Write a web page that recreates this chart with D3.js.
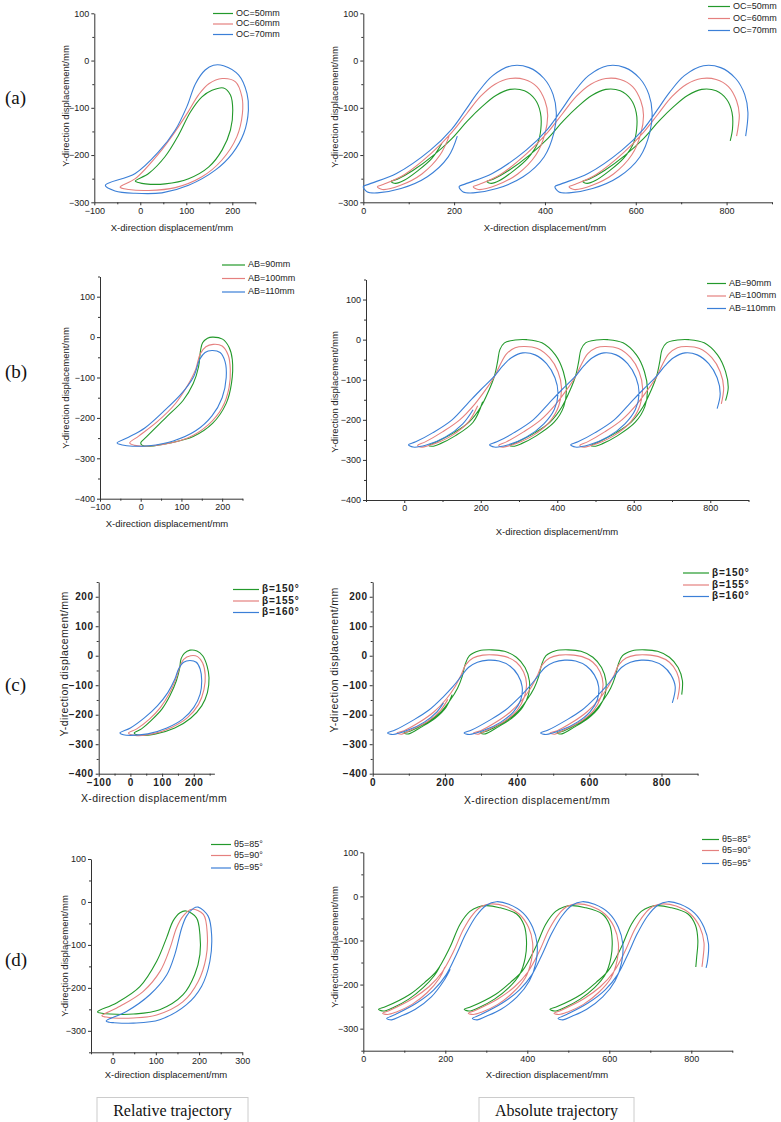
<!DOCTYPE html>
<html lang="en">
<head>
<meta charset="UTF-8">
<title>Relative and absolute trajectories</title>
<script src="https://d3js.org/d3.v7.min.js"></script>
<style>
  body { margin: 0; background: #fff; }
  svg { display: block; font-family: "Liberation Sans", Arial, sans-serif; }
  .domain, .tick line { stroke: #333; }
  .tick text { fill: #222; }
</style>
</head>
<body>
<div id="chart"></div>
<script>
const width = 781, height = 1122;
const colors = ["#23992b", "#e5807f", "#3b7fd7"];

// legend labels
const legendA = ["OC=50mm", "OC=60mm", "OC=70mm"];
const legendB = ["AB=90mm", "AB=100mm", "AB=110mm"];
const legendC = ["β=150°", "β=155°", "β=160°"];
const legendD = ["θ5=85°", "θ5=90°", "θ5=95°"];

// tick labels
const xTicksRel = [-100, 0, 100, 200];
const xTicksRelD = [0, 100, 200, 300];
const xTicksAbs = [0, 200, 400, 600, 800];
const yTicksA = [-300, -200, -100, 0, 100];
const yTicksB = [-400, -300, -200, -100, 0, 100];
const yTicksC = [-400, -300, -200, -100, 0, 100, 200];
const yTicksD = [-300, -200, -100, 0, 100];

// (a) relative trajectory, [x, y] in mm
const relA_OC50 = [[-11,-255],[18,-239],[54,-203],[83,-158],[109,-109],[134,-77],[156,-63],[181,-58],[196,-73],[201,-105],[196,-147],[178,-189],[149,-225],[105,-250],[54,-261],[11,-261],[-4,-258]];
const relA_OC60 = [[-44,-268],[-11,-250],[40,-197],[76,-150],[105,-107],[127,-72],[149,-49],[178,-38],[207,-45],[221,-77],[222,-112],[210,-161],[177,-211],[134,-246],[76,-269],[18,-275],[-25,-273]];
const relA_OC70 = [[-76,-264],[-11,-239],[40,-193],[76,-147],[101,-98],[120,-49],[141,-20],[159,-10],[181,-11],[214,-31],[232,-70],[235,-105],[225,-154],[200,-197],[163,-232],[105,-264],[47,-280],[-11,-281],[-55,-276]];

// (a) absolute trajectory
const absA_OC50 = [[173,-175],[151,-207],[119,-234],[89,-254],[71,-260],
  [61,-256],[75,-251],[110,-232],[155,-200],[195,-165],[230,-127],[262,-97],[292,-74],[323,-61],[355,-64],[378,-82],[390,-110],[391,-145],[384,-175],[362,-207],[330,-234],[300,-254],[282,-260],
  [272,-256],[286,-251],[321,-232],[366,-200],[406,-165],[441,-127],[473,-97],[503,-74],[534,-61],[566,-64],[589,-82],[601,-110],[602,-145],[595,-175],[573,-207],[541,-234],[511,-254],[493,-260],
  [483,-256],[497,-251],[532,-232],[577,-200],[617,-165],[652,-127],[684,-97],[714,-74],[745,-61],[777,-64],[800,-82],[812,-110],[813,-145],[808,-170]];
const absA_OC60 = [[189,-160],[169,-200],[129,-240],[82,-264],[42,-273],
  [31,-267],[45,-262],[91,-241],[150,-196],[195,-152],[228,-112],[258,-76],[290,-50],[323,-38],[355,-40],[382,-55],[400,-85],[406,-115],[400,-155],[380,-200],[340,-240],[293,-264],[253,-273],
  [242,-267],[256,-262],[302,-241],[361,-196],[406,-152],[439,-112],[469,-76],[501,-50],[534,-38],[566,-40],[593,-55],[611,-85],[617,-115],[611,-155],[591,-200],[551,-240],[504,-264],[464,-273],
  [453,-267],[467,-262],[513,-241],[572,-196],[617,-152],[650,-112],[680,-76],[712,-50],[745,-38],[777,-40],[804,-55],[822,-85],[828,-115],[822,-160]];
const absA_OC70 = [[207,-160],[187,-204],[141,-246],[83,-271],[31,-280],[9,-278],
  [0,-267],[14,-261],[73,-239],[147,-190],[195,-145],[225,-105],[252,-68],[285,-32],[327,-11],[365,-15],[398,-38],[418,-72],[425,-110],[420,-152],[398,-204],[352,-246],[294,-271],[242,-280],[220,-278],
  [211,-267],[225,-261],[284,-239],[358,-190],[406,-145],[436,-105],[463,-68],[496,-32],[538,-11],[576,-15],[609,-38],[629,-72],[636,-110],[631,-152],[609,-204],[563,-246],[505,-271],[453,-280],[431,-278],
  [422,-267],[436,-261],[495,-239],[569,-190],[617,-145],[647,-105],[674,-68],[707,-32],[749,-11],[787,-15],[820,-38],[840,-72],[847,-110],[842,-160]];

// (b) relative trajectory
const relB_90 = [[0,-262],[14,-247],[63,-198],[104,-157],[129,-115],[142,-74],[147,-33],[152,-14],[164,-3],[176,0],[201,-5],[217,-25],[225,-56],[223,-114],[210,-164],[177,-213],[129,-246],[72,-262],[23,-270],[4,-268]];
const relB_100 = [[-27,-262],[-5,-245],[40,-210],[85,-165],[115,-120],[135,-80],[146,-42],[160,-24],[178,-18],[200,-22],[215,-45],[220,-80],[217,-125],[200,-175],[165,-218],[115,-250],[55,-266],[5,-270],[-15,-268]];
const relB_110 = [[-58,-262],[-30,-248],[10,-225],[55,-185],[100,-140],[130,-98],[145,-55],[158,-38],[175,-33],[195,-38],[207,-60],[210,-100],[200,-150],[175,-195],[135,-232],[80,-257],[20,-269],[-20,-270],[-45,-267]];

// (b) absolute trajectory
const absB_90 = [[205,-155],[180,-206],[133,-240],[93,-260],[73,-266],
  [64,-264],[85,-255],[130,-232],[170,-205],[200,-168],[222,-125],[236,-90],[244,-55],[250,-25],[262,-8],[290,-1],[320,0],[360,-8],[395,-38],[416,-80],[424,-125],[417,-167],[392,-206],[345,-240],[305,-260],[285,-266],
  [276,-264],[297,-255],[342,-232],[382,-205],[412,-168],[434,-125],[448,-90],[456,-55],[462,-25],[474,-8],[502,-1],[532,0],[572,-8],[607,-38],[628,-80],[636,-125],[629,-167],[604,-206],[557,-240],[517,-260],[497,-266],
  [488,-264],[509,-255],[554,-232],[594,-205],[624,-168],[646,-125],[660,-90],[668,-55],[674,-25],[686,-8],[714,-1],[744,0],[784,-8],[819,-38],[840,-80],[847,-120],[840,-152]];
const absB_100 = [[192,-165],[168,-205],[123,-240],[78,-260],[46,-268],
  [35,-264],[55,-255],[100,-230],[145,-200],[185,-160],[215,-122],[236,-92],[252,-60],[268,-35],[290,-20],[315,-17],[348,-22],[380,-45],[402,-80],[411,-120],[404,-165],[380,-205],[335,-240],[290,-260],[258,-268],
  [247,-264],[267,-255],[312,-230],[357,-200],[397,-160],[427,-122],[448,-92],[464,-60],[480,-35],[502,-20],[527,-17],[560,-22],[592,-45],[614,-80],[623,-120],[616,-165],[592,-205],[547,-240],[502,-260],[470,-268],
  [459,-264],[479,-255],[524,-230],[569,-200],[609,-160],[639,-122],[660,-92],[676,-60],[692,-35],[714,-20],[739,-17],[772,-22],[804,-45],[826,-80],[835,-120],[829,-160]];
const absB_110 = [[180,-175],[153,-210],[108,-243],[58,-263],[23,-268],
  [11,-262],[30,-255],[75,-232],[125,-200],[165,-160],[200,-125],[232,-95],[258,-65],[280,-45],[310,-33],[342,-38],[372,-60],[394,-95],[402,-135],[392,-175],[365,-210],[320,-243],[270,-263],[235,-268],
  [223,-262],[242,-255],[287,-232],[337,-200],[377,-160],[412,-125],[444,-95],[470,-65],[492,-45],[522,-33],[554,-38],[584,-60],[606,-95],[614,-135],[604,-175],[577,-210],[532,-243],[482,-263],[447,-268],
  [435,-262],[454,-255],[499,-232],[549,-200],[589,-160],[624,-125],[656,-95],[682,-65],[704,-45],[734,-33],[766,-38],[796,-60],[818,-95],[826,-135],[818,-172]];

// (c) relative trajectory
const relC_150 = [[12,-262],[35,-248],[65,-220],[100,-180],[125,-135],[145,-85],[155,-45],[160,-10],[170,8],[188,19],[210,16],[228,0],[242,-35],[248,-75],[243,-125],[225,-170],[190,-212],[140,-245],[80,-265],[30,-270]];
const relC_155 = [[-6,-262],[20,-248],[60,-215],[95,-175],[122,-130],[143,-80],[155,-40],[168,-12],[190,0],[212,-3],[228,-25],[236,-65],[232,-115],[215,-165],[180,-210],[130,-243],[70,-265],[15,-270]];
const relC_160 = [[-33,-262],[0,-245],[45,-210],[85,-170],[118,-125],[140,-80],[152,-45],[168,-22],[188,-16],[208,-22],[220,-45],[225,-85],[220,-130],[200,-175],[165,-215],[115,-245],[55,-265],[0,-270],[-22,-268]];

// (c) absolute trajectory
const absC_150 = [[220,-132],[203,-175],[173,-212],[133,-243],[100,-265],
  [86,-262],[105,-255],[145,-230],[185,-195],[215,-150],[235,-110],[248,-70],[256,-30],[268,0],[295,17],[330,20],[365,15],[398,-5],[422,-40],[434,-85],[432,-130],[415,-175],[385,-212],[345,-243],[312,-265],
  [298,-262],[317,-255],[357,-230],[397,-195],[427,-150],[447,-110],[460,-70],[468,-30],[480,0],[507,17],[542,20],[577,15],[610,-5],[634,-40],[646,-85],[644,-130],[627,-175],[597,-212],[557,-243],[524,-265],
  [510,-262],[529,-255],[569,-230],[609,-195],[639,-150],[659,-110],[672,-70],[680,-30],[692,0],[719,17],[754,20],[789,15],[822,-5],[846,-40],[858,-85],[856,-132]];
const absC_155 = [[208,-148],[188,-185],[153,-222],[108,-250],[80,-266],
  [67,-262],[87,-254],[130,-225],[170,-190],[205,-145],[228,-105],[245,-65],[258,-30],[278,-8],[305,2],[335,3],[368,-3],[398,-22],[418,-55],[426,-95],[420,-140],[400,-185],[365,-222],[320,-250],[292,-266],
  [279,-262],[299,-254],[342,-225],[382,-190],[417,-145],[440,-105],[457,-65],[470,-30],[490,-8],[517,2],[547,3],[580,-3],[610,-22],[630,-55],[638,-95],[632,-140],[612,-185],[577,-222],[532,-250],[504,-266],
  [491,-262],[511,-254],[554,-225],[594,-190],[629,-145],[652,-105],[669,-65],[682,-30],[702,-8],[729,2],[759,3],[792,-3],[822,-22],[842,-55],[850,-95],[844,-148]];
const absC_160 = [[196,-160],[178,-190],[143,-225],[98,-252],[56,-267],
  [41,-262],[62,-252],[110,-220],[155,-185],[195,-140],[222,-105],[245,-70],[265,-40],[290,-22],[320,-15],[350,-18],[380,-35],[402,-65],[414,-105],[410,-150],[390,-190],[355,-225],[310,-252],[268,-267],
  [253,-262],[274,-252],[322,-220],[367,-185],[407,-140],[434,-105],[457,-70],[477,-40],[502,-22],[532,-15],[562,-18],[592,-35],[614,-65],[626,-105],[622,-150],[602,-190],[567,-225],[522,-252],[480,-267],
  [465,-262],[486,-252],[534,-220],[579,-185],[619,-140],[646,-105],[669,-70],[689,-40],[714,-22],[744,-15],[774,-18],[804,-35],[826,-65],[838,-105],[830,-160]];

// (d) relative trajectory
const relD_85 = [[-35,-256],[9,-235],[63,-197],[102,-138],[125,-83],[140,-44],[156,-25],[170,-21],[194,-37],[202,-76],[202,-122],[190,-169],[163,-216],[109,-251],[48,-261],[-6,-261],[-25,-259]];
const relD_90 = [[-25,-265],[17,-243],[71,-208],[110,-161],[133,-107],[148,-60],[163,-33],[183,-17],[210,-29],[219,-76],[216,-130],[198,-185],[163,-232],[102,-263],[48,-270],[1,-270],[-15,-268]];
const relD_95 = [[-15,-277],[32,-255],[86,-216],[125,-170],[144,-122],[160,-60],[171,-33],[187,-15],[198,-12],[221,-33],[229,-76],[225,-138],[206,-196],[171,-239],[109,-274],[48,-282],[2,-281],[-8,-280]];

// (d) absolute trajectory
const absD_85 = [[186,-160],[173,-180],[146,-207],[111,-233],[71,-253],[49,-260],
  [37,-256],[55,-250],[114,-222],[150,-195],[179,-169],[211,-116],[236,-63],[260,-34],[280,-24],[301,-21],[330,-25],[374,-40],[392,-65],[398,-100],[395,-139],[382,-176],[355,-207],[320,-233],[280,-253],[258,-260],
  [246,-256],[264,-250],[323,-222],[359,-195],[388,-169],[420,-116],[445,-63],[469,-34],[489,-24],[510,-21],[539,-25],[583,-40],[601,-65],[607,-100],[604,-139],[591,-176],[564,-207],[529,-233],[489,-253],[467,-260],
  [455,-256],[473,-250],[532,-222],[568,-195],[597,-169],[629,-116],[654,-63],[678,-34],[698,-24],[719,-21],[748,-25],[792,-40],[810,-65],[816,-100],[813,-139],[811,-160]];
const absD_90 = [[199,-160],[186,-185],[156,-218],[119,-245],[81,-262],[59,-268],
  [47,-265],[65,-258],[120,-232],[160,-205],[192,-172],[220,-125],[244,-75],[268,-40],[290,-22],[313,-17],[345,-22],[380,-40],[403,-70],[413,-105],[410,-145],[395,-185],[365,-218],[328,-245],[290,-262],[268,-268],
  [256,-265],[274,-258],[329,-232],[369,-205],[401,-172],[429,-125],[453,-75],[477,-40],[499,-22],[522,-17],[554,-22],[589,-40],[612,-70],[622,-105],[619,-145],[604,-185],[574,-218],[537,-245],[499,-262],[477,-268],
  [465,-265],[483,-258],[538,-232],[578,-205],[610,-172],[638,-125],[662,-75],[686,-40],[708,-22],[731,-17],[763,-22],[798,-40],[821,-70],[831,-105],[828,-145],[826,-160]];
const absD_95 = [[212,-165],[196,-192],[166,-228],[127,-256],[91,-272],[69,-280],
  [57,-277],[78,-268],[130,-242],[172,-212],[202,-178],[228,-130],[250,-85],[275,-45],[300,-20],[325,-12],[355,-18],[390,-38],[413,-70],[424,-108],[421,-150],[405,-192],[375,-228],[336,-256],[300,-272],[278,-280],
  [266,-277],[287,-268],[339,-242],[381,-212],[411,-178],[437,-130],[459,-85],[484,-45],[509,-20],[534,-12],[564,-18],[599,-38],[622,-70],[633,-108],[630,-150],[614,-192],[584,-228],[545,-256],[509,-272],[487,-280],
  [475,-277],[496,-268],[548,-242],[590,-212],[620,-178],[646,-130],[668,-85],[693,-45],[718,-20],[743,-12],[773,-18],[808,-38],[831,-70],[842,-108],[839,-150],[836,-162]];

const svg = d3.select("#chart").append("svg")
  .attr("width", width).attr("height", height)
  .style("background", "#fff");

// layout of each of the eight plots
const panels = [
  { series: [relA_OC50, relA_OC60, relA_OC70], closed: true, legend: legendA,
    xDomain: [-100, 250], xRange: [94.3, 255.3], xTicks: xTicksRel, xMinor: 50,
    yDomain: [-300, 100], yRange: [202.3, 13.3], yTicks: yTicksA,
    leg: [213, 236, [13.5, 24, 34.5]], xLab: [172, 231], yLab: [66, 106] },
  { series: [absA_OC50, absA_OC60, absA_OC70], closed: false, legend: legendA,
    xDomain: [0, 900], xRange: [363.3, 772], xTicks: xTicksAbs, xMinor: 100,
    yDomain: [-300, 100], yRange: [202.3, 13.3], yTicks: yTicksA,
    leg: [708, 733, [6.5, 18.5, 30.5]], xLab: [545, 231], yLab: [335, 107] },
  { series: [relB_90, relB_100, relB_110], closed: true, legend: legendB,
    xDomain: [-100, 250], xRange: [100, 242.5], xTicks: xTicksRel, xMinor: 50,
    yDomain: [-400, 150], yRange: [498.7, 276.5], yTicks: yTicksB,
    leg: [222, 248, [265, 278.5, 292]], xLab: [167, 527], yLab: [66, 388] },
  { series: [absB_90, absB_100, absB_110], closed: false, legend: legendB,
    xDomain: [-100, 900], xRange: [366, 748.5], xTicks: xTicksAbs, xMinor: 100,
    yDomain: [-400, 150], yRange: [500, 279.5], yTicks: yTicksB,
    leg: [707, 729, [283.5, 296, 308.5]], xLab: [557, 535], yLab: [335, 392] },
  { series: [relC_150, relC_155, relC_160], closed: true, legend: legendC, bold: true,
    xDomain: [-100, 265], xRange: [98.7, 214.4], xTicks: xTicksRel, xMinor: 50,
    yDomain: [-400, 250], yRange: [773.7, 582], yTicks: yTicksC,
    leg: [233, 262, [589.5, 601, 612.5]], xLab: [154, 802], yLab: [65, 664] },
  { series: [absC_150, absC_155, absC_160], closed: false, legend: legendC, bold: true,
    xDomain: [0, 900], xRange: [372.7, 697.6], xTicks: xTicksAbs, xMinor: 100,
    yDomain: [-400, 250], yRange: [773.7, 582], yTicks: yTicksC,
    leg: [683, 712, [573, 585, 596.5]], xLab: [537, 804], yLab: [335, 660] },
  { series: [relD_85, relD_90, relD_95], closed: true, legend: legendD,
    xDomain: [-50, 300], xRange: [91, 242.3], xTicks: xTicksRelD, xMinor: 50,
    yDomain: [-350, 100], yRange: [1052.3, 859], yTicks: yTicksD,
    leg: [211, 234, [844.5, 855.5, 868]], xLab: [166, 1078], yLab: [65, 956] },
  { series: [absD_85, absD_90, absD_95], closed: false, legend: legendD,
    xDomain: [0, 900], xRange: [363.3, 732.3], xTicks: xTicksAbs, xMinor: 100,
    yDomain: [-350, 100], yRange: [1050.7, 852.3], yTicks: yTicksD,
    leg: [702, 722, [839.5, 850.5, 863.5]], xLab: [547, 1078], yLab: [335, 947] }
];

panels.forEach(p => {
  const x = d3.scaleLinear().domain(p.xDomain).range(p.xRange);
  const y = d3.scaleLinear().domain(p.yDomain).range(p.yRange);
  const g = svg.append("g");
  const fs = p.bold ? 10 : 9;
  const fw = p.bold ? "bold" : "normal";

  // minor ticks
  const xMinor = d3.range(p.xDomain[0], p.xDomain[1] + 1, p.xMinor).filter(v => !p.xTicks.includes(v));
  const yMinor = d3.range(p.yDomain[0], p.yDomain[1] + 1, 50).filter(v => !p.yTicks.includes(v));
  g.append("g").attr("transform", `translate(0,${p.yRange[0]})`)
    .call(d3.axisBottom(x).tickValues(xMinor).tickSize(2).tickFormat(""))
    .call(s => s.select(".domain").remove());
  g.append("g").attr("transform", `translate(${p.xRange[0]},0)`)
    .call(d3.axisLeft(y).tickValues(yMinor).tickSize(2).tickFormat(""))
    .call(s => s.select(".domain").remove());

  // major axes
  const xa = g.append("g").attr("transform", `translate(0,${p.yRange[0]})`)
    .call(d3.axisBottom(x).tickValues(p.xTicks).tickSize(3).tickPadding(2).tickSizeOuter(0));
  const ya = g.append("g").attr("transform", `translate(${p.xRange[0]},0)`)
    .call(d3.axisLeft(y).tickValues(p.yTicks).tickSize(3).tickPadding(2).tickSizeOuter(0));
  [xa, ya].forEach(a => a.selectAll("text")
    .attr("font-size", fs).attr("font-weight", fw)
    .attr("letter-spacing", p.bold ? 0.6 : 0)
    .style("font-family", "'Liberation Sans', Arial, sans-serif"));

  // trajectories
  const line = d3.line()
    .x(d => x(d[0])).y(d => y(d[1]))
    .curve(p.closed ? d3.curveCatmullRomClosed.alpha(0.5) : d3.curveCatmullRom.alpha(0.5));
  p.series.forEach((s, i) => {
    g.append("path").datum(s)
      .attr("d", line)
      .attr("fill", "none")
      .attr("stroke", colors[i])
      .attr("stroke-width", 1.1);
  });

  // legend
  p.legend.forEach((name, i) => {
    const ly = p.leg[2][i];
    g.append("line")
      .attr("x1", p.leg[0]).attr("x2", p.leg[1] - 3)
      .attr("y1", ly).attr("y2", ly)
      .attr("stroke", colors[i]).attr("stroke-width", 1.2);
    g.append("text")
      .attr("x", p.leg[1]).attr("y", ly)
      .attr("dominant-baseline", "middle")
      .attr("font-size", p.bold ? 10 : 9)
      .attr("font-weight", fw)
      .attr("letter-spacing", p.bold ? 0.8 : 0)
      .attr("fill", "#222")
      .text(name);
  });

  // axis titles
  g.append("text")
    .attr("x", p.xLab[0]).attr("y", p.xLab[1])
    .attr("text-anchor", "middle")
    .attr("font-size", p.bold ? 10.5 : 9.5)
    .attr("letter-spacing", p.bold ? 0.4 : 0)
    .attr("fill", "#222")
    .text("X-direction displacement/mm");
  g.append("text")
    .attr("transform", `translate(${p.yLab[0]},${p.yLab[1]}) rotate(-90)`)
    .attr("text-anchor", "middle")
    .attr("dominant-baseline", "middle")
    .attr("font-size", p.bold ? 10.5 : 9.5)
    .attr("letter-spacing", p.bold ? 0.4 : 0)
    .attr("fill", "#222")
    .text("Y-direction displacement/mm");
});

// row letters
const rowLetters = ["(a)", "(b)", "(c)", "(d)"];
const rowBase = [104, 378, 691, 966];
rowLetters.forEach((t, i) => {
  svg.append("text")
    .attr("x", 5).attr("y", rowBase[i])
    .attr("font-family", "'Liberation Serif', 'Times New Roman', serif")
    .attr("font-size", 19)
    .attr("fill", "#111")
    .text(t);
});

// column captions
const captions = [
  { text: "Relative trajectory", x: 97, w: 151 },
  { text: "Absolute trajectory", x: 479, w: 155 }
];
captions.forEach(c => {
  svg.append("rect")
    .attr("x", c.x).attr("y", 1097.5).attr("width", c.w).attr("height", 30)
    .attr("fill", "none").attr("stroke", "#ccc");
  svg.append("text")
    .attr("x", c.x + c.w / 2).attr("y", 1116)
    .attr("text-anchor", "middle")
    .attr("font-family", "'Liberation Serif', 'Times New Roman', serif")
    .attr("font-size", 16)
    .attr("fill", "#111")
    .text(c.text);
});
</script>
</body>
</html>
